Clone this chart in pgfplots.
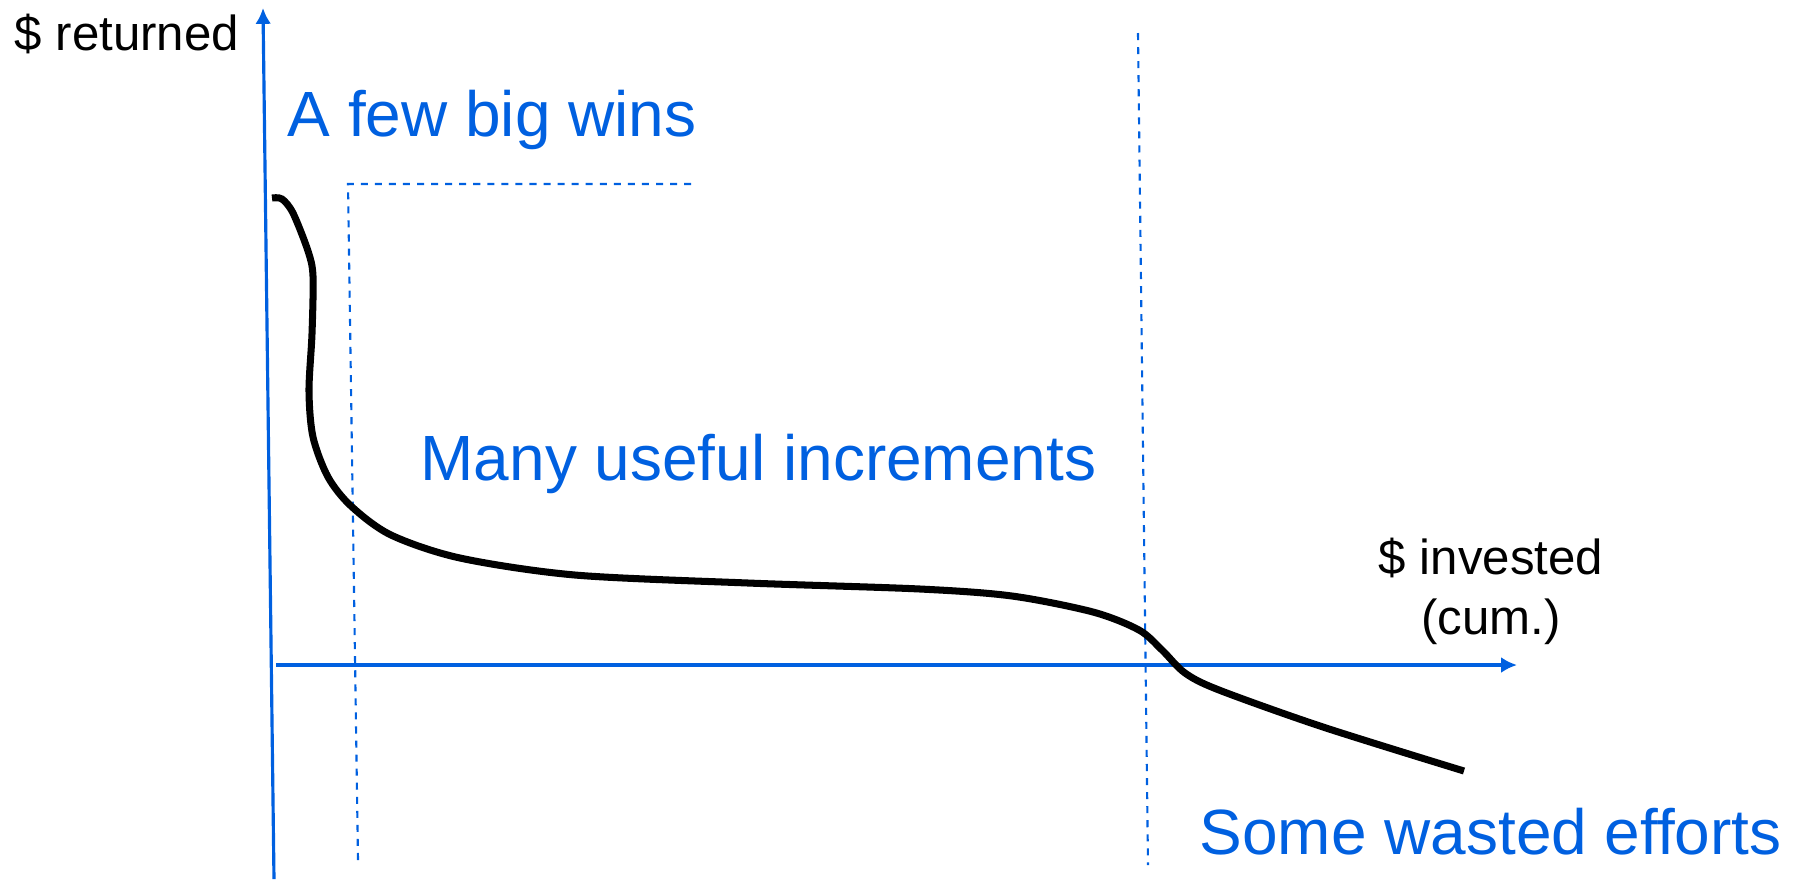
\documentclass[border=0pt]{standalone}
\usepackage{fontspec}
\setmainfont{Liberation Sans}
\usepackage{pgfplots}
\pgfplotsset{compat=1.18}
\usetikzlibrary{arrows.meta}
\definecolor{pblue}{RGB}{0,96,224}

\begin{document}
\begin{tikzpicture}
\begin{axis}[
    name=main,
    width=18.03cm, height=8.79cm,
    scale only axis,
    xmin=0, xmax=1803, ymin=0, ymax=879,
    y dir=reverse,
    hide axis,
    clip=false,
]
% axes
\addplot[pblue, line width=0.9pt, -{Latex[length=4.5pt,width=4.5pt]}] coordinates {(274,879) (263,8)};
\addplot[pblue, line width=0.9pt, -{Latex[length=4.5pt,width=4.5pt]}] coordinates {(276,665) (1517,665)};
% dashed guides
\addplot[pblue, line width=0.6pt, dash pattern=on 2pt off 2pt] coordinates {(358,860) (348,184) (692,184)};
\addplot[pblue, line width=0.6pt, dash pattern=on 2pt off 2pt] coordinates {(1138,33) (1148,865)};
% curve
\addplot[black, line width=2pt, smooth, tension=0.5] coordinates {
(272,198) (282,199) (293,213) (308,251) (313,276) (312,334) (309,391)
(313,437) (328,477) (351,506) (391,535) (460,558) (575,575) (748,583)
(920,589) (1012,596) (1093,612) (1139,630) (1162,650) (1185,673)
(1219,690) (1323,727) (1464,771)};
% labels
\node[anchor=west, inner sep=0pt, font=\fontsize{14}{17}\selectfont] at (axis cs:14,34) {\$ returned};
\node[anchor=center, inner sep=0pt, align=center, font=\fontsize{14}{17}\selectfont] at (axis cs:1491,591) {\$ invested\\(cum.)};
\node[anchor=base west, inner sep=0pt, text=pblue, font=\fontsize{18.2}{20}\selectfont] at (axis cs:287,136) {A few big wins};
\node[anchor=base west, inner sep=0pt, text=pblue, font=\fontsize{18.2}{20}\selectfont] at (axis cs:420,480) {Many useful increments};
\node[anchor=base west, inner sep=0pt, text=pblue, font=\fontsize{18.2}{20}\selectfont] at (axis cs:1199,854) {Some wasted efforts};
\end{axis}
\pgfresetboundingbox
\useasboundingbox (main.south west) rectangle (main.north east);
\end{tikzpicture}
\end{document}
